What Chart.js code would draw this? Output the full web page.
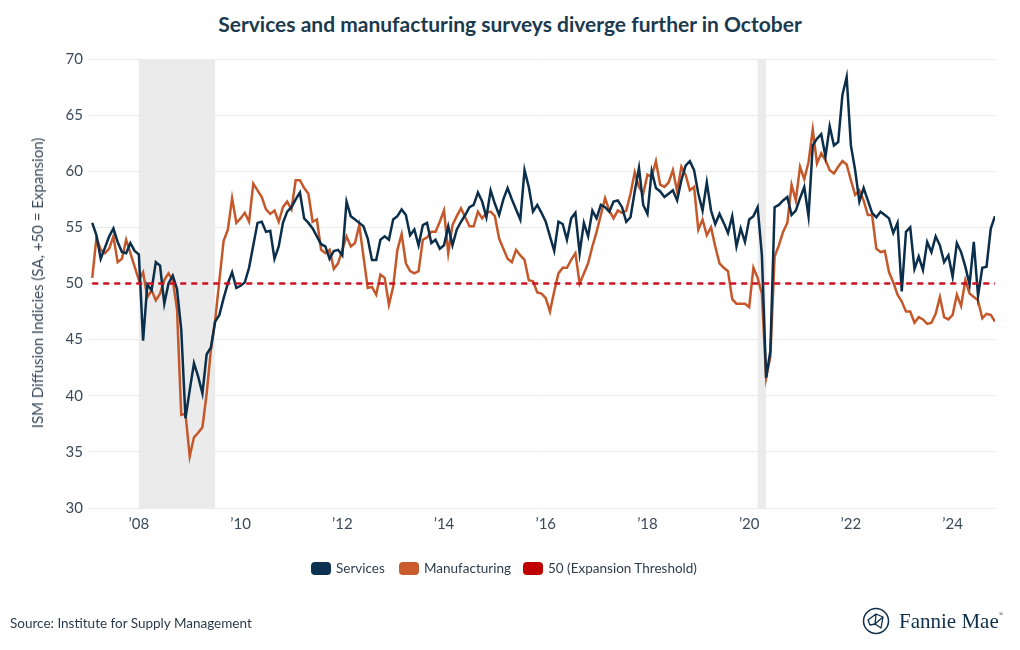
<!DOCTYPE html>
<html>
<head>
<meta charset="utf-8">
<script src="https://cdn.jsdelivr.net/npm/chart.js@4.4.1/dist/chart.umd.min.js"></script>
<style>
  html, body { margin:0; padding:0; background:#fff; }
  body { width:1020px; height:650px; position:relative; overflow:hidden; font-family: Lato, "Open Sans", sans-serif; }
  #title { position:absolute; left:0; top:11px; width:1020px; text-align:center; font-weight:700; font-size:21px; color:#1b3a4e; }
  #chart { position:absolute; left:0; top:0; }
  #ytitle { position:absolute; left:37px; top:283px; transform: translate(-50%,-50%) rotate(-90deg); white-space:nowrap; font-size:15px; color:#3a4a5a; }
  .leg { position:absolute; top:560px; display:flex; align-items:center; font-size:13.5px; color:#2e3d4c; white-space:nowrap; }
  .leg .box { width:20px; height:13px; border-radius:4px; margin-right:5px; }
  #source { position:absolute; left:10px; top:615px; font-size:13.5px; color:#2b3a4a; }
  #logo { position:absolute; left:862px; top:607px; display:flex; align-items:center; }
  #logo span { font-family: "Liberation Serif", "DejaVu Serif", serif; font-size:21px; color:#0d2f4a; margin-left:9px; }
  #logo sup { font-size:6px; vertical-align: 12px; }
</style>
</head>
<body>
<div id="title">Services and manufacturing surveys diverge further in October</div>
<canvas id="chart" width="1020" height="650"></canvas>
<div id="ytitle">ISM Diffusion Indicies (SA, +50 = Expansion)</div>
<div class="leg" style="left:311px"><div class="box" style="background:#0d3251"></div>Services</div>
<div class="leg" style="left:399px"><div class="box" style="background:#c95b2c"></div>Manufacturing</div>
<div class="leg" style="left:523px"><div class="box" style="background:#c00000"></div>50 (Expansion Threshold)</div>
<div id="source">Source: Institute for Supply Management</div>
<div id="logo">
  <svg width="28" height="28" viewBox="0 0 28 28">
    <circle cx="14" cy="14" r="12.5" fill="none" stroke="#0d2f4a" stroke-width="1.5"/>
    <path d="M6 13 L14 7 L21 10 L19 21 L13 17 L8 18 Z M14 7 L13 17 M21 10 L13 17" fill="none" stroke="#0d2f4a" stroke-width="1.3" stroke-linejoin="round"/>
  </svg>
  <span>Fannie Mae<sup>®</sup></span>
</div>
<script>
// ---- Data (monthly, Jan 2007 – Oct 2024) ----
const startYear = 2007;
const services = [
 55.4,54.3,52.2,53.2,54.2,54.9,53.7,52.8,52.7,53.6,52.9,52.6,
 44.9,49.9,49.4,51.9,51.6,48.2,50.0,50.7,49.5,45.9,38.0,40.5,
 42.9,41.7,40.2,43.7,44.3,46.6,47.2,48.7,50.0,51.0,49.6,49.8,
 50.1,51.4,53.4,55.4,55.5,54.6,54.7,52.2,53.3,55.4,56.4,56.8,
 57.5,58.1,55.8,55.4,54.9,54.2,53.5,53.3,52.2,52.9,53.0,52.5,
 57.3,56.0,55.7,55.4,55.1,54.0,52.1,52.1,53.9,54.2,53.9,55.7,
 56.0,56.6,56.1,54.3,54.8,53.4,55.2,55.4,53.6,53.9,53.1,53.4,
 55.1,53.4,54.8,55.5,56.1,56.8,57.0,58.1,57.3,55.9,58.3,57.1,
 56.1,57.5,58.5,57.5,56.6,55.7,60.1,58.6,56.4,57.0,56.3,55.5,
 54.2,52.9,55.5,55.3,53.9,55.8,56.3,52.7,55.4,54.2,56.5,55.8,
 57.0,56.8,56.4,57.3,57.4,56.8,55.5,55.9,58.2,60.3,57.0,56.2,
 60.0,58.5,58.2,57.7,58.0,58.3,57.4,59.2,60.5,60.9,60.1,58.0,
 56.5,59.0,56.5,55.3,56.2,55.4,54.5,56.0,53.3,54.9,53.7,55.7,
 56.0,56.8,52.5,41.6,44.0,56.8,57.0,57.4,57.7,56.1,56.5,57.6,
 58.6,56.0,62.3,62.9,63.3,61.3,64.0,62.3,62.6,66.8,68.4,62.3,
 60.1,57.3,58.5,57.4,56.3,55.9,56.4,56.1,55.8,54.5,55.4,49.3,
 54.6,55.0,51.3,52.4,51.2,53.7,52.8,54.2,53.4,51.9,52.5,50.6,
 53.6,52.8,51.5,49.9,53.7,48.9,51.4,51.5,54.9,56.0
];
const manufacturing = [
 50.5,54.1,53.0,52.7,53.1,54.2,51.9,52.2,53.9,52.7,51.5,50.3,
 51.0,48.8,49.4,48.5,49.1,50.3,50.9,50.3,47.7,38.3,38.4,34.6,
 36.3,36.7,37.2,40.2,44.1,46.7,50.3,53.8,54.8,57.6,55.4,55.8,
 56.3,55.5,58.9,58.3,57.7,56.6,56.2,56.5,55.5,56.8,57.3,56.6,
 59.2,59.2,58.5,58.0,55.5,55.7,53.0,52.7,53.0,51.3,51.8,53.0,
 54.2,53.3,53.6,55.2,52.4,49.6,49.7,49.0,50.8,50.5,48.1,49.7,
 53.0,54.4,51.8,51.1,50.9,51.1,53.9,54.1,54.6,54.6,55.5,56.5,
 52.7,55.2,56.0,56.7,55.9,55.1,55.1,56.4,55.8,56.3,56.4,56.0,
 54.0,53.1,52.2,51.9,53.0,52.5,52.1,50.3,50.2,49.2,49.1,48.7,
 47.5,49.3,50.9,51.4,51.4,52.1,52.7,50.0,50.9,51.8,53.3,54.6,
 56.1,57.6,56.5,55.8,56.5,56.3,56.5,58.0,59.9,58.6,58.0,59.7,
 59.5,60.9,58.8,58.6,59.0,60.1,58.2,60.4,59.7,58.3,58.6,54.8,
 55.7,54.3,55.0,53.3,51.8,51.4,51.1,48.6,48.2,48.2,48.2,47.9,
 51.4,50.5,49.1,41.6,43.5,52.4,53.4,54.6,55.4,58.8,57.4,60.4,
 59.3,60.8,63.7,60.7,61.6,61.0,60.1,59.8,60.4,60.9,60.6,59.2,
 57.9,58.3,57.4,56.1,56.1,53.1,52.8,52.9,51.0,50.1,49.0,48.4,
 47.5,47.5,46.5,47.0,46.8,46.4,46.5,47.3,48.8,47.0,46.8,47.2,
 49.0,48.0,50.3,49.1,48.8,48.5,46.9,47.3,47.2,46.6
];
const threshold = 50;
const tickYears = [2008,2010,2012,2014,2016,2018,2020,2022,2024];
const tickLabels = ["\u201908","\u201910","\u201912","\u201914","\u201916","\u201918","\u201920","\u201922","\u201924"];
const yTicks = [30,35,40,45,50,55,60,65,70];
// recession periods: [startYear, startMonth, endYear, endMonth]
const recessions = [[2007,12,2009,6],[2020,2,2020,4]];

// ---- helpers ----
const idx = (y, m) => (y - startYear) * 12 + (m - 1);   // month index
const last = services.length - 1;
const toXY = arr => arr.map((v, i) => ({x: i, y: v}));

const recessionPlugin = {
  id: 'recessions',
  beforeDatasetsDraw(chart) {
    const {ctx, chartArea, scales} = chart;
    ctx.save();
    ctx.fillStyle = '#ebebeb';
    recessions.forEach(r => {
      const x0 = scales.x.getPixelForValue(idx(r[0], r[1]));
      const x1 = scales.x.getPixelForValue(idx(r[2], r[3]));
      ctx.fillRect(x0, chartArea.top, x1 - x0, chartArea.bottom - chartArea.top);
    });
    ctx.restore();
  }
};

new Chart(document.getElementById('chart'), {
  type: 'line',
  data: {
    datasets: [
      { label: '50 (Expansion Threshold)', data: [{x:0, y:threshold},{x:last, y:threshold}],
        borderColor: '#cc1020', borderWidth: 2.5, borderDash: [6,5], pointRadius: 0, order: 0 },
      { label: 'Services', data: toXY(services), borderColor: '#0b2e4a', borderWidth: 2.5,
        pointRadius: 0, tension: 0, order: 1 },
      { label: 'Manufacturing', data: toXY(manufacturing), borderColor: '#c4582a', borderWidth: 2.5,
        pointRadius: 0, tension: 0, order: 2 }
    ]
  },
  options: {
    responsive: false,
    animation: false,
    devicePixelRatio: 1,
    layout: { padding: { top: 59, right: 25, bottom: 0, left: 0 } },
    plugins: { legend: { display: false }, tooltip: { enabled: false } },
    scales: {
      x: {
        type: 'linear', min: -1, max: last,
        grid: { display: false, drawTicks: false },
        border: { display: false },
        afterBuildTicks: s => { s.ticks = tickYears.map(y => ({ value: idx(y, 1) - 1 })); },
        afterFit: s => { s.height = 142; },
        ticks: {
          autoSkip: false, maxRotation: 0, padding: 7,
          font: { family: 'Lato', size: 15 }, color: '#3a4a5a',
          callback: v => { const k = tickYears.findIndex(y => idx(y,1) - 1 === v); return k >= 0 ? tickLabels[k] : ''; }
        }
      },
      y: {
        min: 30, max: 70,
        afterBuildTicks: s => { s.ticks = yTicks.map(v => ({ value: v })); },
        afterFit: s => { s.width = 88; },
        grid: { color: '#e9e9e9', lineWidth: 1, drawTicks: false },
        border: { display: false },
        ticks: { padding: 5, font: { family: 'Lato', size: 15 }, color: '#3a4a5a' }
      }
    }
  },
  plugins: [recessionPlugin]
});
</script>
</body>
</html>
